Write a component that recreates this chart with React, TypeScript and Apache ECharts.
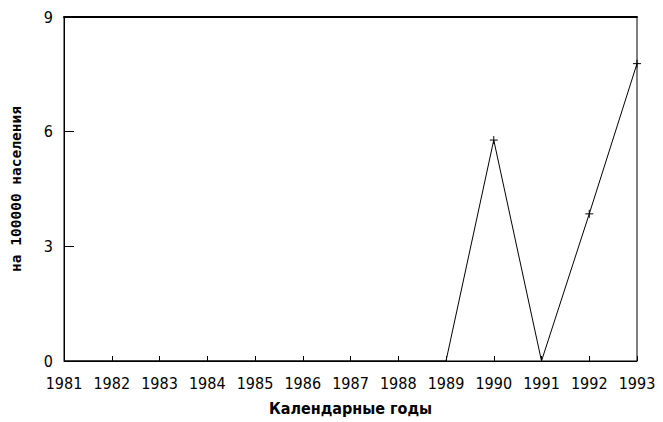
import React, { useEffect, useRef } from "react";
import * as echarts from "echarts";

const years = ["1981","1982","1983","1984","1985","1986","1987","1988","1989","1990","1991","1992","1993"];
const rates = [0, 0, 0, 0, 0, 0, 0, 0, 0, 5.78, 0, 3.85, 7.78];
const markedYears = ["1990", "1992", "1993"];
const yTicks = [0, 3, 6, 9];

const PLUS = "path://M5,0L5,10M0,5L10,5";

export default function App() {
  const ref = useRef<HTMLDivElement>(null);
  useEffect(() => {
    const chart = echarts.init(ref.current!, null, { renderer: "svg" });
    const font = "'Liberation Sans Narrow', 'DejaVu Sans Condensed', sans-serif";
    chart.setOption({
      animation: false,
      backgroundColor: "#fff",
      grid: { left: 58, right: 26, top: 17, bottom: 61, show: true, borderColor: "#000", borderWidth: 1, backgroundColor: "transparent" },
      xAxis: [
        {
          type: "category",
          data: years,
          boundaryGap: false,
          axisLine: { lineStyle: { color: "#000", width: 1 } },
          axisTick: { inside: true, length: 5, lineStyle: { color: "#000" } },
          axisLabel: { color: "#000", fontFamily: font, fontSize: 16, margin: 14 },
          name: "Календарные годы",
          nameLocation: "middle",
          nameGap: 39,
          nameTextStyle: { color: "#000", fontFamily: "'DejaVu Sans Condensed', sans-serif", fontWeight: "bold", fontSize: 16 },
          splitLine: { show: false },
        },
        {
          type: "category",
          data: years,
          boundaryGap: false,
          position: "top",
          axisLine: { lineStyle: { color: "#000", width: 2 } },
          axisTick: { show: false },
          axisLabel: { show: false },
        },
      ],
      yAxis: {
        type: "value",
        min: 0,
        max: 9,
        interval: 3,
        axisLine: { show: true, lineStyle: { color: "#000" } },
        axisTick: { show: true, inside: true, length: 10, lineStyle: { color: "#000" } },
        axisLabel: { color: "#000", fontFamily: font, fontSize: 16, margin: 11, formatter: (v: number) => (yTicks.includes(v) ? String(v) : "") },
        splitLine: { show: false },
        name: "на 100000 населения",
        nameLocation: "middle",
        nameGap: 41,
        nameTextStyle: { color: "#000", fontFamily: "'DejaVu Sans Mono', monospace", fontWeight: "bold", fontSize: 14.5 },
      },
      series: [
        {
          type: "line",
          data: rates.map((v, i) => ({
            value: v,
            symbol: markedYears.includes(years[i]) ? PLUS : "none",
          })),
          symbolSize: 8,
          lineStyle: { color: "#000", width: 1 },
          itemStyle: { color: "none", borderColor: "#000", borderWidth: 1 },
          showSymbol: true,
        },
      ],
    });
    return () => chart.dispose();
  }, []);
  return <div ref={ref} style={{ width: 663, height: 422, position: "absolute", left: 0, top: 0 }} />;
}
